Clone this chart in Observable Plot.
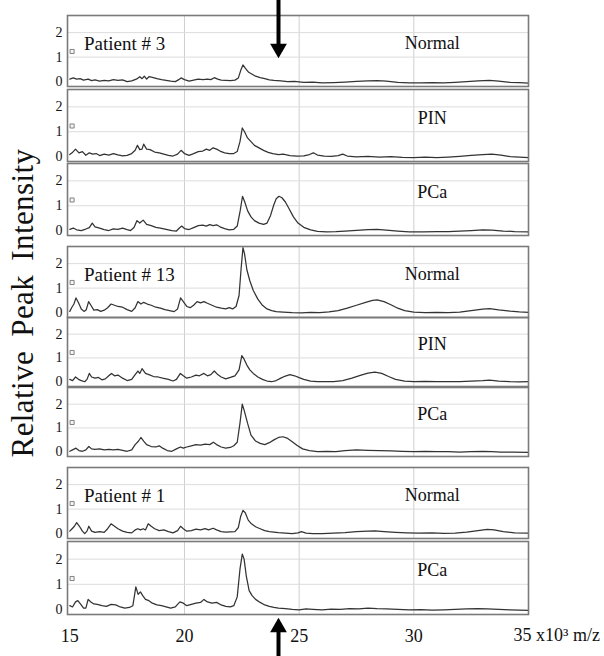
<!DOCTYPE html>
<html><head><meta charset="utf-8">
<script src="https://cdn.jsdelivr.net/npm/d3@7"></script>
<script src="https://cdn.jsdelivr.net/npm/@observablehq/plot@0.6"></script>
<style>
body{margin:0;background:#fff;}
#chart{position:relative;width:604px;height:656px;overflow:hidden;font-family:"Liberation Serif","Times New Roman",serif;}
#chart svg{position:absolute;left:0;overflow:visible;}
#ytitle{position:absolute;width:360px;height:38px;line-height:38px;text-align:center;left:-157px;top:284px;transform:rotate(-90deg);font-size:31px;letter-spacing:0.4px;word-spacing:6px;color:#111;white-space:nowrap;}
</style></head><body>
<div id="chart"><div id="ytitle">Relative Peak Intensity</div></div>
<script>
// ---- data (m/z in thousands, relative intensity) ----
const patients = ["Patient # 3", "Patient # 13", "Patient # 1"];
const conditions = ["Normal", "PIN", "PCa"];
const xTicks = [15, 20, 25, 30, 35];
const yTicks = [0, 1, 2];
const xUnitLabel = "35 x10\u00B3 m/z";
const arrowMz = 24.1;

const p3Normal = [[15.0,0.1],[15.15,0.15],[15.3,0.1],[15.45,0.12],[15.6,0.06],[15.8,0.1],[15.95,0.04],[16.1,0.07],[16.3,0.02],[16.5,0.05],[16.7,0.03],[16.9,0.08],[17.1,0.05],[17.3,0.07],[17.5,0.0],[17.7,0.03],[17.9,0.1],[18.05,0.2],[18.15,0.12],[18.25,0.22],[18.35,0.1],[18.45,0.2],[18.6,0.17],[18.8,0.12],[19.0,0.08],[19.2,0.05],[19.4,0.02],[19.6,0.0],[19.75,0.08],[19.85,0.15],[20.0,0.08],[20.2,0.02],[20.4,0.06],[20.6,0.1],[20.8,0.08],[21.0,0.1],[21.15,0.08],[21.3,0.16],[21.45,0.1],[21.6,0.06],[21.8,0.05],[22.0,0.04],[22.2,0.06],[22.35,0.15],[22.45,0.45],[22.55,0.68],[22.65,0.55],[22.8,0.38],[22.95,0.3],[23.1,0.22],[23.3,0.16],[23.5,0.12],[23.7,0.07],[23.9,0.05],[24.2,0.03],[24.5,0.0],[24.8,0.01],[25.2,-0.03],[25.6,-0.02],[26.0,-0.05],[26.5,-0.04],[27.0,-0.02],[27.5,0.01],[28.0,0.03],[28.4,0.04],[28.8,0.02],[29.3,-0.03],[29.8,-0.05],[30.3,-0.05],[30.8,-0.04],[31.3,-0.05],[31.8,-0.03],[32.3,0.0],[32.8,0.03],[33.3,0.05],[33.7,0.02],[34.2,-0.03],[34.6,-0.04],[35.0,-0.06]];

const p3PIN = [[15.0,0.08],[15.1,0.15],[15.25,0.3],[15.4,0.15],[15.55,0.2],[15.7,0.05],[15.85,0.15],[16.0,0.1],[16.15,0.12],[16.3,0.04],[16.5,0.1],[16.7,0.06],[16.9,0.12],[17.1,0.07],[17.3,0.03],[17.5,0.05],[17.7,0.12],[17.85,0.25],[17.95,0.45],[18.05,0.28],[18.15,0.3],[18.22,0.5],[18.35,0.3],[18.5,0.28],[18.7,0.18],[18.9,0.15],[19.1,0.1],[19.3,0.05],[19.5,0.02],[19.7,0.1],[19.85,0.25],[20.0,0.12],[20.2,0.05],[20.4,0.12],[20.6,0.2],[20.8,0.22],[20.95,0.3],[21.1,0.25],[21.25,0.35],[21.4,0.3],[21.55,0.22],[21.75,0.15],[21.95,0.12],[22.15,0.12],[22.3,0.2],[22.42,0.6],[22.52,1.15],[22.62,1.0],[22.75,0.75],[22.9,0.6],[23.05,0.45],[23.25,0.35],[23.45,0.25],[23.65,0.17],[23.85,0.12],[24.1,0.08],[24.3,0.1],[24.6,0.04],[24.9,0.02],[25.2,0.03],[25.45,0.08],[25.62,0.15],[25.8,0.06],[26.1,0.02],[26.4,0.01],[26.7,0.04],[26.9,0.1],[27.1,0.02],[27.5,-0.01],[28.0,0.01],[28.5,-0.02],[29.0,0.0],[29.5,-0.03],[30.0,-0.04],[30.5,-0.02],[31.0,-0.04],[31.5,-0.02],[32.0,0.01],[32.5,0.05],[33.0,0.08],[33.4,0.1],[33.8,0.06],[34.2,0.0],[34.6,-0.02],[35.0,-0.04]];

const p3PCa = [[15.0,0.05],[15.15,0.1],[15.3,0.03],[15.5,0.0],[15.7,0.06],[15.85,0.12],[15.98,0.3],[16.1,0.15],[16.3,0.1],[16.5,0.04],[16.7,0.0],[16.9,0.07],[17.1,0.05],[17.3,0.1],[17.5,0.04],[17.65,0.0],[17.8,0.12],[17.93,0.4],[18.05,0.3],[18.2,0.42],[18.35,0.25],[18.55,0.2],[18.75,0.13],[18.95,0.1],[19.2,0.05],[19.45,0.0],[19.65,-0.02],[19.78,0.1],[19.88,0.18],[20.0,0.08],[20.2,0.04],[20.4,0.12],[20.6,0.2],[20.8,0.22],[20.95,0.18],[21.1,0.24],[21.25,0.2],[21.4,0.23],[21.55,0.15],[21.75,0.08],[21.95,0.03],[22.15,0.05],[22.3,0.18],[22.43,0.8],[22.53,1.38],[22.63,1.15],[22.75,0.8],[22.9,0.55],[23.05,0.4],[23.25,0.3],[23.45,0.25],[23.6,0.3],[23.75,0.6],[23.9,1.05],[24.0,1.28],[24.12,1.38],[24.25,1.32],[24.4,1.15],[24.55,0.9],[24.75,0.55],[24.95,0.3],[25.2,0.13],[25.5,0.03],[25.8,-0.03],[26.2,-0.05],[26.6,-0.04],[27.0,-0.02],[27.5,0.01],[28.0,0.04],[28.4,0.05],[28.8,0.02],[29.3,-0.02],[29.8,-0.05],[30.4,-0.05],[31.0,-0.04],[31.5,-0.04],[32.0,-0.02],[32.5,0.0],[33.0,0.03],[33.4,0.02],[33.9,-0.02],[34.4,-0.04],[35.0,-0.05]];

const p13Normal = [[15.0,0.05],[15.08,0.2],[15.18,0.35],[15.27,0.6],[15.38,0.4],[15.5,0.15],[15.62,0.05],[15.72,0.12],[15.82,0.45],[15.92,0.3],[16.05,0.1],[16.2,0.12],[16.35,0.05],[16.5,0.1],[16.65,0.2],[16.8,0.35],[16.95,0.3],[17.1,0.25],[17.3,0.22],[17.5,0.12],[17.7,0.05],[17.85,0.2],[17.97,0.45],[18.1,0.35],[18.22,0.42],[18.38,0.35],[18.55,0.3],[18.75,0.22],[18.95,0.18],[19.15,0.12],[19.35,0.08],[19.55,0.04],[19.7,0.15],[19.83,0.6],[19.95,0.45],[20.1,0.25],[20.25,0.2],[20.4,0.3],[20.55,0.45],[20.7,0.4],[20.85,0.45],[21.0,0.38],[21.2,0.3],[21.4,0.22],[21.6,0.18],[21.8,0.15],[21.95,0.2],[22.1,0.15],[22.25,0.25],[22.38,0.7],[22.47,1.8],[22.55,2.65],[22.62,2.4],[22.72,1.75],[22.85,1.3],[23.0,0.9],[23.2,0.55],[23.4,0.3],[23.6,0.15],[23.8,0.08],[24.0,0.04],[24.3,0.02],[24.7,0.0],[25.1,-0.01],[25.5,0.01],[25.9,0.0],[26.3,0.03],[26.7,0.08],[27.1,0.18],[27.5,0.3],[27.9,0.42],[28.2,0.5],[28.4,0.52],[28.7,0.45],[29.0,0.32],[29.3,0.18],[29.6,0.08],[30.0,0.02],[30.5,0.0],[31.0,0.01],[31.5,0.0],[32.0,0.02],[32.5,0.08],[33.0,0.14],[33.3,0.16],[33.7,0.11],[34.2,0.06],[34.6,0.03],[35.0,0.01]];

const p13PIN = [[15.0,0.1],[15.12,0.05],[15.25,0.2],[15.38,0.1],[15.5,0.05],[15.65,0.0],[15.75,0.1],[15.85,0.35],[15.95,0.2],[16.1,0.15],[16.25,0.18],[16.4,0.08],[16.55,0.12],[16.7,0.25],[16.82,0.35],[16.95,0.25],[17.1,0.28],[17.3,0.15],[17.5,0.05],[17.7,0.1],[17.85,0.3],[17.97,0.45],[18.05,0.35],[18.15,0.55],[18.3,0.35],[18.45,0.3],[18.65,0.22],[18.85,0.2],[19.05,0.15],[19.3,0.1],[19.5,0.03],[19.65,0.1],[19.82,0.35],[19.95,0.25],[20.1,0.15],[20.3,0.2],[20.5,0.28],[20.65,0.25],[20.85,0.35],[21.0,0.25],[21.15,0.3],[21.3,0.45],[21.45,0.3],[21.6,0.2],[21.8,0.12],[22.0,0.18],[22.2,0.25],[22.38,0.5],[22.5,1.1],[22.6,0.95],[22.72,0.7],[22.85,0.5],[23.0,0.35],[23.2,0.2],[23.4,0.1],[23.6,0.03],[23.8,0.0],[24.0,0.05],[24.2,0.15],[24.4,0.24],[24.6,0.3],[24.8,0.25],[25.0,0.17],[25.2,0.1],[25.5,0.03],[25.8,0.0],[26.1,0.01],[26.5,0.0],[26.9,0.05],[27.3,0.15],[27.7,0.28],[28.0,0.36],[28.3,0.4],[28.6,0.35],[28.9,0.22],[29.2,0.1],[29.6,0.03],[30.0,0.0],[30.5,0.02],[31.0,0.0],[31.5,0.01],[32.0,0.0],[32.5,0.03],[33.0,0.05],[33.3,0.07],[33.7,0.03],[34.2,0.0],[34.6,-0.01],[35.0,0.0]];

const p13PCa = [[15.0,0.02],[15.12,0.08],[15.27,0.15],[15.4,0.05],[15.55,0.02],[15.7,0.08],[15.83,0.22],[15.95,0.12],[16.1,0.1],[16.3,0.12],[16.5,0.08],[16.7,0.1],[16.9,0.08],[17.1,0.1],[17.3,0.06],[17.5,0.02],[17.7,0.08],[17.85,0.3],[18.0,0.45],[18.1,0.6],[18.22,0.45],[18.35,0.3],[18.55,0.22],[18.75,0.2],[18.9,0.25],[19.05,0.15],[19.25,0.05],[19.45,0.02],[19.65,0.12],[19.82,0.2],[19.95,0.15],[20.1,0.2],[20.3,0.25],[20.5,0.3],[20.7,0.28],[20.9,0.32],[21.1,0.3],[21.26,0.4],[21.4,0.3],[21.6,0.2],[21.8,0.15],[22.0,0.18],[22.15,0.25],[22.3,0.4],[22.42,1.2],[22.52,2.0],[22.6,1.75],[22.75,1.2],[22.9,0.7],[23.1,0.45],[23.3,0.35],[23.5,0.3],[23.7,0.38],[23.9,0.5],[24.1,0.6],[24.3,0.63],[24.5,0.56],[24.7,0.42],[24.9,0.27],[25.15,0.12],[25.45,0.05],[25.8,0.0],[26.2,0.02],[26.6,0.0],[27.0,0.05],[27.5,0.08],[28.0,0.06],[28.5,0.05],[29.0,0.04],[29.5,0.02],[30.0,0.0],[30.5,0.02],[31.0,0.0],[31.5,0.01],[32.0,-0.02],[32.5,0.0],[33.0,0.02],[33.4,0.01],[33.8,-0.02],[34.3,-0.02],[35.0,-0.03]];

const p1Normal = [[15.0,0.1],[15.1,0.2],[15.2,0.3],[15.3,0.45],[15.42,0.3],[15.55,0.1],[15.65,0.0],[15.75,0.1],[15.83,0.3],[15.95,0.1],[16.1,0.05],[16.3,0.08],[16.5,0.05],[16.65,0.2],[16.8,0.4],[16.95,0.3],[17.1,0.2],[17.3,0.1],[17.5,0.05],[17.7,0.03],[17.85,0.15],[17.97,0.2],[18.08,0.15],[18.2,0.2],[18.3,0.15],[18.42,0.4],[18.55,0.3],[18.7,0.2],[18.9,0.12],[19.1,0.15],[19.3,0.08],[19.5,0.03],[19.7,0.12],[19.83,0.3],[19.95,0.2],[20.1,0.1],[20.3,0.12],[20.5,0.18],[20.7,0.15],[20.9,0.2],[21.05,0.15],[21.25,0.22],[21.4,0.15],[21.6,0.08],[21.8,0.06],[22.0,0.07],[22.2,0.08],[22.35,0.25],[22.45,0.7],[22.55,0.95],[22.65,0.85],[22.78,0.55],[22.92,0.4],[23.1,0.28],[23.3,0.2],[23.5,0.12],[23.7,0.08],[23.9,0.06],[24.1,0.04],[24.4,0.02],[24.7,0.0],[24.95,0.03],[25.1,0.08],[25.3,0.02],[25.6,0.0],[26.0,0.0],[26.5,0.02],[27.0,0.04],[27.5,0.08],[28.0,0.1],[28.3,0.11],[28.7,0.08],[29.2,0.05],[29.7,0.03],[30.2,0.02],[30.8,0.03],[31.3,0.01],[31.8,0.02],[32.3,0.06],[32.8,0.12],[33.2,0.17],[33.5,0.15],[33.9,0.08],[34.4,0.03],[35.0,0.02]];

const p1PCa = [[15.0,0.15],[15.12,0.1],[15.25,0.3],[15.35,0.35],[15.48,0.2],[15.6,0.05],[15.7,0.05],[15.8,0.4],[15.92,0.3],[16.05,0.22],[16.2,0.2],[16.4,0.15],[16.6,0.12],[16.8,0.2],[17.0,0.18],[17.2,0.1],[17.4,0.05],[17.6,0.08],[17.75,0.15],[17.88,0.9],[17.98,0.6],[18.08,0.7],[18.18,0.55],[18.3,0.4],[18.45,0.35],[18.6,0.25],[18.8,0.18],[19.0,0.15],[19.2,0.1],[19.4,0.05],[19.6,0.1],[19.8,0.3],[19.95,0.25],[20.1,0.15],[20.3,0.2],[20.5,0.25],[20.7,0.28],[20.85,0.4],[21.0,0.3],[21.2,0.25],[21.4,0.28],[21.6,0.18],[21.8,0.12],[22.0,0.1],[22.15,0.15],[22.3,0.5],[22.42,1.6],[22.52,2.2],[22.6,2.0],[22.7,1.3],[22.82,0.75],[22.95,0.55],[23.1,0.4],[23.3,0.28],[23.5,0.18],[23.7,0.12],[23.9,0.08],[24.1,0.05],[24.4,0.03],[24.7,0.0],[25.0,-0.02],[25.3,0.02],[25.6,0.0],[26.0,-0.02],[26.4,0.01],[26.8,0.0],[27.2,0.03],[27.6,0.02],[28.0,0.05],[28.4,0.03],[28.8,0.02],[29.3,0.0],[29.8,-0.02],[30.3,-0.01],[30.8,-0.03],[31.3,-0.02],[31.8,0.0],[32.3,0.02],[32.8,0.03],[33.2,0.02],[33.7,0.0],[34.2,-0.02],[34.6,-0.03],[35.0,-0.04]];

// ---- panel table ----
const panels = [
  {patient: patients[0], condition: conditions[0], data: p3Normal},
  {patient: null,        condition: conditions[1], data: p3PIN},
  {patient: null,        condition: conditions[2], data: p3PCa},
  {patient: patients[1], condition: conditions[0], data: p13Normal},
  {patient: null,        condition: conditions[1], data: p13PIN},
  {patient: null,        condition: conditions[2], data: p13PCa},
  {patient: patients[2], condition: conditions[0], data: p1Normal},
  {patient: null,        condition: conditions[2], data: p1PCa}
];

// ---- layout (pixels) ----
const tops    = [15, 89, 163, 246, 317, 387, 467, 541];
const heights = [71, 72, 72, 71, 69, 69, 71, 73];
const serif = "'Liberation Serif','Times New Roman',serif";
const chart = document.getElementById("chart");

panels.forEach((p, i) => {
  const first = i === 0, last = i === panels.length - 1;
  const mt = first ? tops[0] : 0;
  const mb = last ? 656 - (tops[i] + heights[i]) : 0;
  const h = heights[i];
  const unit = h / 2.9; // px per intensity unit
  const marks = [
    Plot.gridX(xTicks.slice(1, -1), {stroke: "#cfcfcf", strokeOpacity: 1, strokeWidth: 1}),
    Plot.gridY([1, 2], {stroke: "#dcdcdc", strokeOpacity: 1, strokeWidth: 1}),
    Plot.axisY(yTicks, {tickSize: 0, tickPadding: 5, fontSize: 14, label: null, fill: "#111"}),
    Plot.line(p.data, {x: d => d[0], y: d => d[1], stroke: "#333", strokeWidth: 1.25}),
    Plot.dot([p.condition], {x: 15.1, y: 1.23, symbol: "square", r: 2.3, stroke: "#666", fill: "#f4f4f4", strokeWidth: 0.8}),
    Plot.text([p.condition], {x: 30.8, y: 1.56, text: d => d, fontSize: 18, fill: "#111", textAnchor: "middle", lineAnchor: "middle"}),
    Plot.frame({stroke: "#7a7a7a", strokeWidth: 1.6})
  ];
  if (p.patient) marks.push(Plot.text([p.patient], {x: 15.62, y: 1.56, text: d => d, fontSize: 19, fill: "#111", textAnchor: "start", lineAnchor: "middle"}));
  if (first) {
    const yTop = 2.7 + mt / unit;
    marks.push(Plot.ruleX([arrowMz], {x: d => d, y1: yTop, y2: 2.7 - 29 / unit, stroke: "#000", strokeWidth: 4}));
    marks.push(Plot.dot([arrowMz], {x: d => d, y: 2.7 - 33 / unit, symbol: "triangle2", r: 8, rotate: 180, fill: "#000", stroke: "none"}));
  }
  if (last) {
    marks.push(Plot.axisX(xTicks, {tickSize: 0, tickPadding: 15, fontSize: 18, fill: "#111", label: null, tickFormat: d => d === 35 ? "" : String(d)}));
    marks.push(Plot.text([xUnitLabel], {x: 35, frameAnchor: "bottom", text: d => d, dy: 21, dx: -15, fontSize: 18, fill: "#111", textAnchor: "start", lineAnchor: "middle"}));
    const yBot = -0.2;
    marks.push(Plot.ruleX([arrowMz], {x: d => d, y1: yBot - 16 / unit, y2: yBot - mb / unit, stroke: "#000", strokeWidth: 4}));
    marks.push(Plot.dot([arrowMz], {x: d => d, y: yBot - 13 / unit, symbol: "triangle2", r: 8, fill: "#000", stroke: "none"}));
  }
  const svg = Plot.plot({
    width: 604,
    height: h + mt + mb,
    marginLeft: 67, marginRight: 76, marginTop: mt, marginBottom: mb,
    style: {fontFamily: serif, background: "transparent", overflow: "visible", color: "#111"},
    x: {domain: [14.9, 35], axis: null},
    y: {domain: [-0.2, 2.7], axis: null},
    marks
  });
  svg.style.top = (tops[i] - mt) + "px";
  chart.appendChild(svg);
});
</script>
</body></html>
